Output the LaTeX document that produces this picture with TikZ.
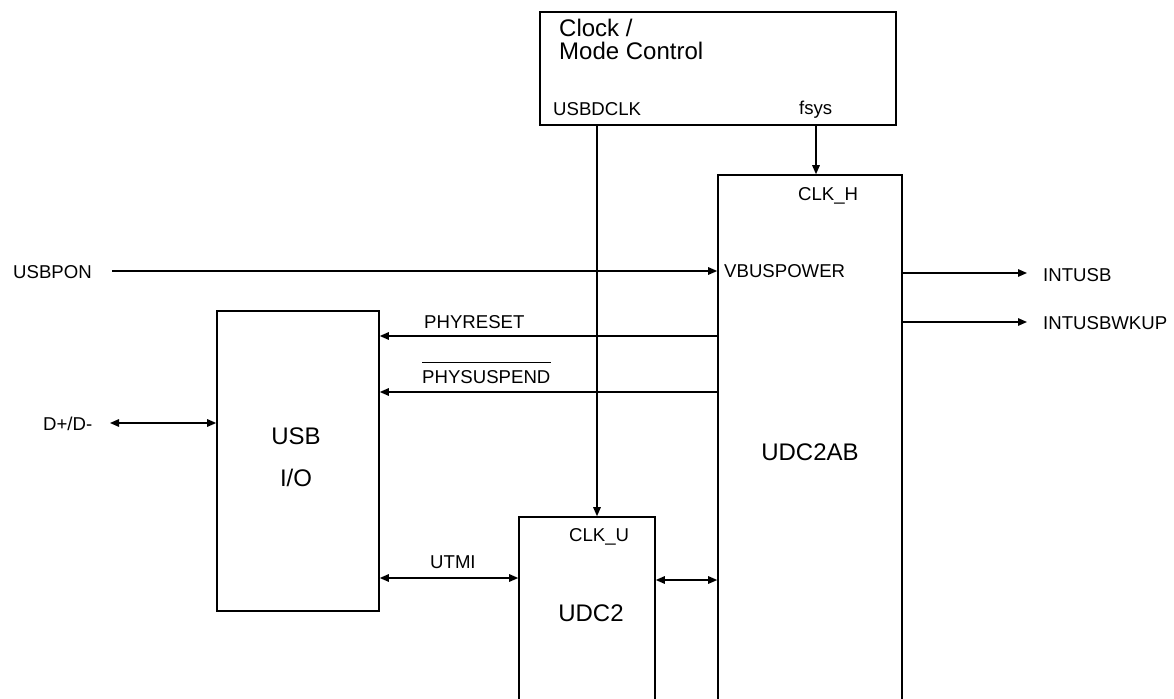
\documentclass[tikz,border=0pt]{standalone}
\usepackage{fontspec}
\setmainfont{Liberation Sans}
\usepackage{tikz}
\usetikzlibrary{arrows.meta,positioning,calc}
\tikzset{
  % functional block
  blk/.style={rectangle, draw=black, line width=1.6pt, inner sep=0pt},
  % small signal label
  sglabel/.style={inner sep=0pt, anchor=base west, font=\fontsize{18.6}{22}\selectfont},
  % large block label
  blklabel/.style={inner sep=0pt, anchor=base, font=\fontsize{24}{24}\selectfont},
  % signal arrow
  sig/.style={-{Triangle[length=9pt,width=7.5pt]}, line width=1.4pt},
  % bidirectional bus
  dsig/.style={{Triangle[length=9pt,width=7.5pt]}-{Triangle[length=9pt,width=7.5pt]}, line width=1.4pt},
}
\begin{document}
\begin{tikzpicture}[x=1pt,y=-1pt]
  \useasboundingbox (0,0) rectangle (1174,698);
  \clip (0,0) rectangle (1174,698);

  % Blocks
  \node[blk, minimum width=356pt, minimum height=113pt] (clk) at (718,68.5) {};
  \node[blk, minimum width=184pt, minimum height=545pt] (udcab) at (810,447.5) {};
  \node[blk, minimum width=136pt, minimum height=203pt] (udc) at (587,618.5) {};
  \node[blk, minimum width=162pt, minimum height=300pt] (usbio) at (298,461) {};

  % Block labels
  \node[sglabel, font=\fontsize{24}{24}\selectfont] (clkname) at (559,37) {Clock /};
  \node[sglabel, font=\fontsize{24}{24}\selectfont] (clkmode) at (559,60) {Mode Control};
  \node[sglabel] (usbdclk) at (553,115) {USBDCLK};
  \node[sglabel] (fsys) at (799,114) {fsys};
  \node[sglabel] (clkh) at (798,200) {CLK\_H};
  \node[sglabel] (vbus) at (724,277) {VBUSPOWER};
  \node[blklabel] (udcabname) at (810,460) {UDC2AB};
  \node[sglabel] (clku) at (569,541) {CLK\_U};
  \node[blklabel] (udcname) at (591,621) {UDC2};
  \node[blklabel] (usbname) at (296,444) {USB};
  \node[blklabel] (ioname) at (296,486) {I/O};

  % Signal labels
  \node[sglabel] (usbpon) at (13,278) {USBPON};
  \node[sglabel] (phyrst) at (424,328) {PHYRESET};
  \node[sglabel] (physusp) at (422,383) {PHYSUSPEND};
  \draw[line width=1.2pt] ([yshift=7pt]physusp.north west) -- ([yshift=7pt]physusp.north east);
  \node[sglabel] (dpm) at (43,430) {D+/D-};
  \node[sglabel] (utmi) at (430,568) {UTMI};
  \node[sglabel] (intusb) at (1043,281) {INTUSB};
  \node[sglabel] (intwk) at (1043,329) {INTUSBWKUP};

  % Tap points
  \coordinate (ctap) at (597,0);
  \coordinate (ftap) at (816,0);
  \coordinate (ponend) at (112,271);
  \coordinate (rsty) at (0,336);
  \coordinate (suspy) at (0,392);
  \coordinate (dpmend) at (110,423);
  \coordinate (utmiy) at (0,578);
  \coordinate (busy) at (0,580);
  \coordinate (intend) at (1027,273);
  \coordinate (wkend) at (1027,322);

  % Connectors
  \draw[sig] (clk.south -| ctap) -- (udc.north -| ctap);
  \draw[sig] (clk.south -| ftap) -- (udcab.north -| ftap);
  \draw[sig] (ponend) -- (ponend -| udcab.west);
  \draw[sig] (udcab.west |- rsty) -- (usbio.east |- rsty);
  \draw[sig] (udcab.west |- suspy) -- (usbio.east |- suspy);
  \draw[dsig] (dpmend) -- (dpmend -| usbio.west);
  \draw[dsig] (usbio.east |- utmiy) -- (udc.west |- utmiy);
  \draw[dsig] (udc.east |- busy) -- (udcab.west |- busy);
  \draw[sig] (udcab.east |- intend) -- (intend);
  \draw[sig] (udcab.east |- wkend) -- (wkend);
\end{tikzpicture}
\end{document}
